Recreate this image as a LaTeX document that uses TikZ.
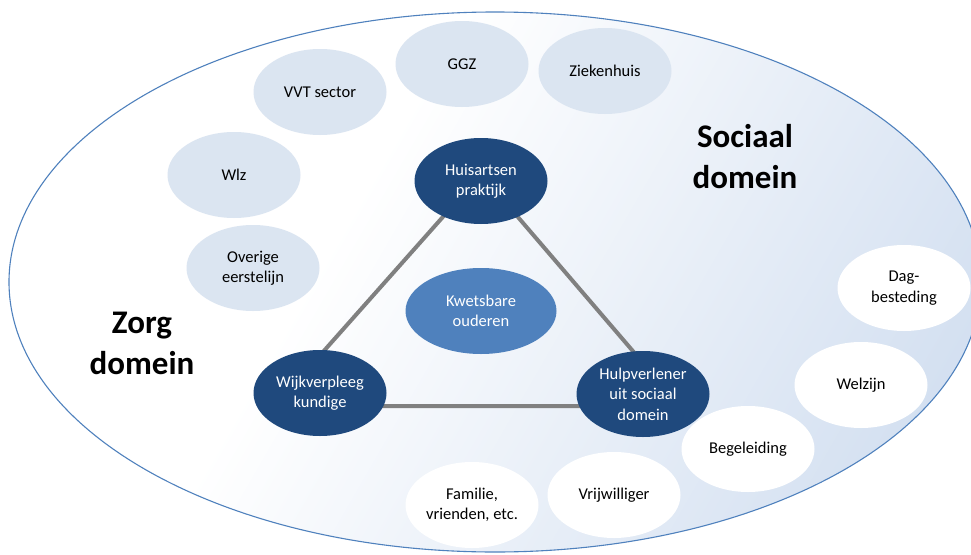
\documentclass[tikz,border=0pt]{standalone}
\usepackage{fontspec}
\setmainfont{Carlito}
\usetikzlibrary{shapes.geometric}

\definecolor{navy}{RGB}{31,73,125}
\definecolor{midblue}{RGB}{79,129,189}
\definecolor{paleblue}{RGB}{219,229,241}
\definecolor{domainblue}{RGB}{206,220,239}
\definecolor{linkgray}{RGB}{128,128,128}

\pgfdeclarehorizontalshading{domainshade}{100bp}{%
  color(0bp)=(white); color(40bp)=(white); color(82bp)=(domainblue); color(100bp)=(domainblue)}

\tikzset{
  bubble/.style={ellipse, inner sep=0pt, minimum width=133pt, minimum height=86pt,
    align=center, font=\fontsize{16.5}{20.5}\selectfont},
  zorg/.style={bubble, fill=paleblue, text=black},
  sociaal/.style={bubble, fill=white, text=black},
  kern/.style={bubble, fill=navy, text=white},
  client/.style={bubble, fill=midblue, text=white, minimum width=151pt},
  domainlabel/.style={align=center, font=\fontsize{33}{41}\selectfont\bfseries},
  link/.style={draw=linkgray, line width=4pt}
}

\begin{document}
\begin{tikzpicture}[x=1pt, y=-1pt]
  \useasboundingbox (0,0) rectangle (971,554);
  \clip (0,0) rectangle (971,554);

  % the surrounding domain
  \node[ellipse, draw=midblue, line width=1.1pt, shading=domainshade, shading angle=-30,
        inner sep=0pt, minimum width=972pt, minimum height=540pt] (domain) at (495,282) {};

  % triangle of the core partners
  \coordinate (tA) at (481,174);
  \coordinate (tB) at (275,406);
  \coordinate (tC) at (680,406);
  \draw[link] (tA) -- (tB) -- (tC) -- cycle;

  % care domain
  \node[zorg] (vvt)   at (320,92)  {VVT sector};
  \node[zorg] (ggz)   at (462,64)  {GGZ};
  \node[zorg] (zkh)   at (605,71)  {Ziekenhuis};
  \node[zorg] (wlz)   at (234,175) {Wlz};
  \node[zorg] (eerst) at (253,268) {Overige\\eerstelijn};

  % core partners
  \node[kern] (huis) at (481,181) {Huisartsen\\praktijk};
  \node[kern] (wijk) at (320,393) {Wijkverpleeg\\kundige};
  \node[kern] (hulp) at (643,394) {Hulpverlener\\uit sociaal\\domein};

  % centre
  \node[client] (oud) at (481,311) {Kwetsbare\\ouderen};

  % social domain
  \node[sociaal] (dag)  at (904,288) {Dag-\\besteding};
  \node[sociaal] (welz) at (861,385) {Welzijn};
  \node[sociaal] (bgl)  at (748,449) {Begeleiding};
  \node[sociaal] (vrij) at (614,495) {Vrijwilliger};
  \node[sociaal] (fam)  at (472,505) {Familie,\\vrienden, etc.};

  % domain titles
  \node[domainlabel] (zorgtitel)    at (142,343) {Zorg\\domein};
  \node[domainlabel] (sociaaltitel) at (745,157) {Sociaal\\domein};
\end{tikzpicture}
\end{document}
